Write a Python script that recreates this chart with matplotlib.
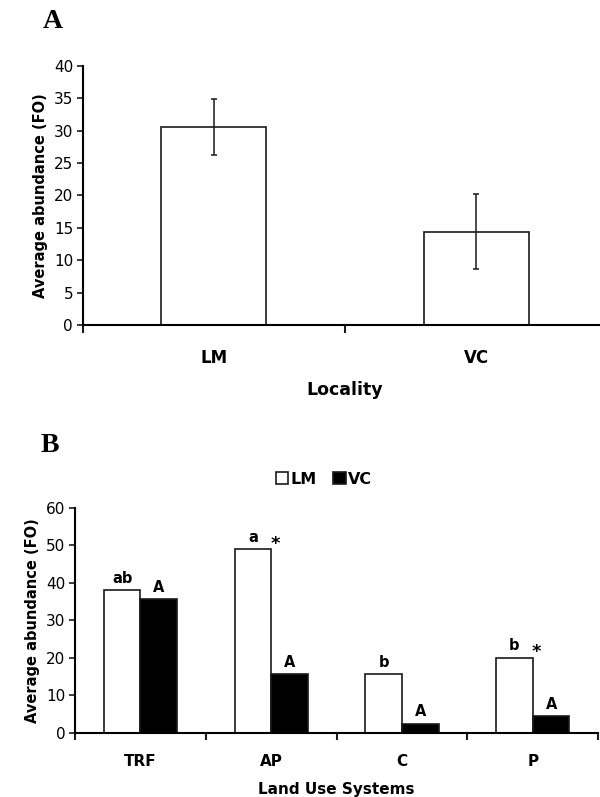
import matplotlib
matplotlib.use("Agg")
import matplotlib.pyplot as plt
from matplotlib.patches import Patch
import numpy as np

# panel A: average abundance by locality
localities = ["LM", "VC"]
loc_mean = [30.5, 14.4]
loc_err = [4.3, 5.8]

# panel B: average abundance by land use system
systems = ["TRF", "AP", "C", "P"]
lm_vals = [38.0, 48.9, 15.6, 20.0]
vc_vals = [35.6, 15.6, 2.4, 4.4]
lm_letters = ["ab", "a", "b", "b"]
vc_letters = ["A", "A", "A", "A"]
lm_star = [False, True, False, True]

plt.rcParams["font.family"] = "DejaVu Sans"
edge = "#1a1a1a"

fig = plt.figure(figsize=(6.0, 7.97), dpi=100)

# ---- panel A ----
axA = fig.add_axes([0.138, 0.592, 0.874, 0.3256])
x = np.arange(len(localities))
axA.bar(x, loc_mean, width=0.4, color="white", edgecolor=edge, linewidth=1.2,
        yerr=loc_err, capsize=2.5, error_kw={"elinewidth": 1.1, "capthick": 1.1, "ecolor": edge})
axA.set_xlim(-0.5, 1.5)
axA.set_ylim(0, 40)
axA.set_yticks(range(0, 41, 5))
axA.set_xticks([-0.5, 0.5, 1.5])
axA.set_xticklabels([])
axA.set_xticks(x, minor=True)
axA.set_xticklabels(localities, minor=True, fontsize=12, fontweight="bold")
axA.tick_params(axis="x", which="minor", length=0, pad=17)
axA.tick_params(axis="x", which="major", length=6, width=1.5, color=edge)
axA.tick_params(axis="y", length=4, width=1.2, labelsize=11, color=edge, pad=3)
axA.spines["top"].set_visible(False)
axA.spines["right"].set_visible(False)
axA.spines["left"].set_linewidth(1.5)
axA.spines["bottom"].set_linewidth(1.5)
axA.set_ylabel("Average abundance (FO)", fontsize=10.5, fontweight="bold", labelpad=4)
axA.set_xlabel("Locality", fontsize=12.5, fontweight="bold", labelpad=10)
fig.text(53 / 600, 1 - 22 / 797, "A", fontsize=20, fontweight="bold",
         family="Liberation Serif", ha="center", va="center")

# ---- panel B ----
axB = fig.add_axes([0.125, 0.0807, 0.872, 0.2823])
xb = np.arange(len(systems))
w = 0.28
axB.bar(xb - w / 2, lm_vals, width=w, color="white", edgecolor=edge, linewidth=1.2, label="LM")
axB.bar(xb + w / 2, vc_vals, width=w, color="black", edgecolor=edge, linewidth=1.2, label="VC")
for i in range(len(systems)):
    axB.text(xb[i] - w / 2, lm_vals[i] + 1.2, lm_letters[i], ha="center", va="bottom",
             fontsize=10.5, fontweight="bold")
    axB.text(xb[i] + w / 2, vc_vals[i] + 1.2, vc_letters[i], ha="center", va="bottom",
             fontsize=10.5, fontweight="bold")
    if lm_star[i]:
        axB.text(xb[i] + 0.03, lm_vals[i] - 1.0, "*", ha="center", va="bottom",
                 fontsize=13, fontweight="bold")
axB.set_xlim(-0.5, 3.5)
axB.set_ylim(0, 60)
axB.set_yticks(range(0, 61, 10))
axB.set_xticks(np.arange(-0.5, 3.6, 1))
axB.set_xticklabels([])
axB.set_xticks(xb, minor=True)
axB.set_xticklabels(systems, minor=True, fontsize=11, fontweight="bold")
axB.tick_params(axis="x", which="minor", length=0, pad=15)
axB.tick_params(axis="x", which="major", length=5, width=1.5, color=edge)
axB.tick_params(axis="y", length=4, width=1.2, labelsize=11, color=edge, pad=3)
axB.spines["top"].set_visible(False)
axB.spines["right"].set_visible(False)
axB.spines["left"].set_linewidth(1.5)
axB.spines["bottom"].set_linewidth(1.5)
axB.set_ylabel("Average abundance (FO)", fontsize=10.5, fontweight="bold", labelpad=4)
axB.set_xlabel("Land Use Systems", fontsize=11, fontweight="bold", labelpad=10)
handles = [Patch(facecolor="white", edgecolor=edge, linewidth=1.2, label="LM"),
           Patch(facecolor="black", edgecolor=edge, linewidth=1.2, label="VC")]
fig.legend(handles=handles, loc="center", bbox_to_anchor=(324 / 600, 1 - 479 / 797), ncol=2,
           frameon=False, handlelength=0.8, handleheight=0.8, handletextpad=0.15,
           columnspacing=1.0, prop={"weight": "bold", "size": 11.5})
fig.text(50 / 600, 1 - 445 / 797, "B", fontsize=20, fontweight="bold",
         family="Liberation Serif", ha="center", va="center")

fig.savefig("out.png", dpi=100, facecolor="white")
